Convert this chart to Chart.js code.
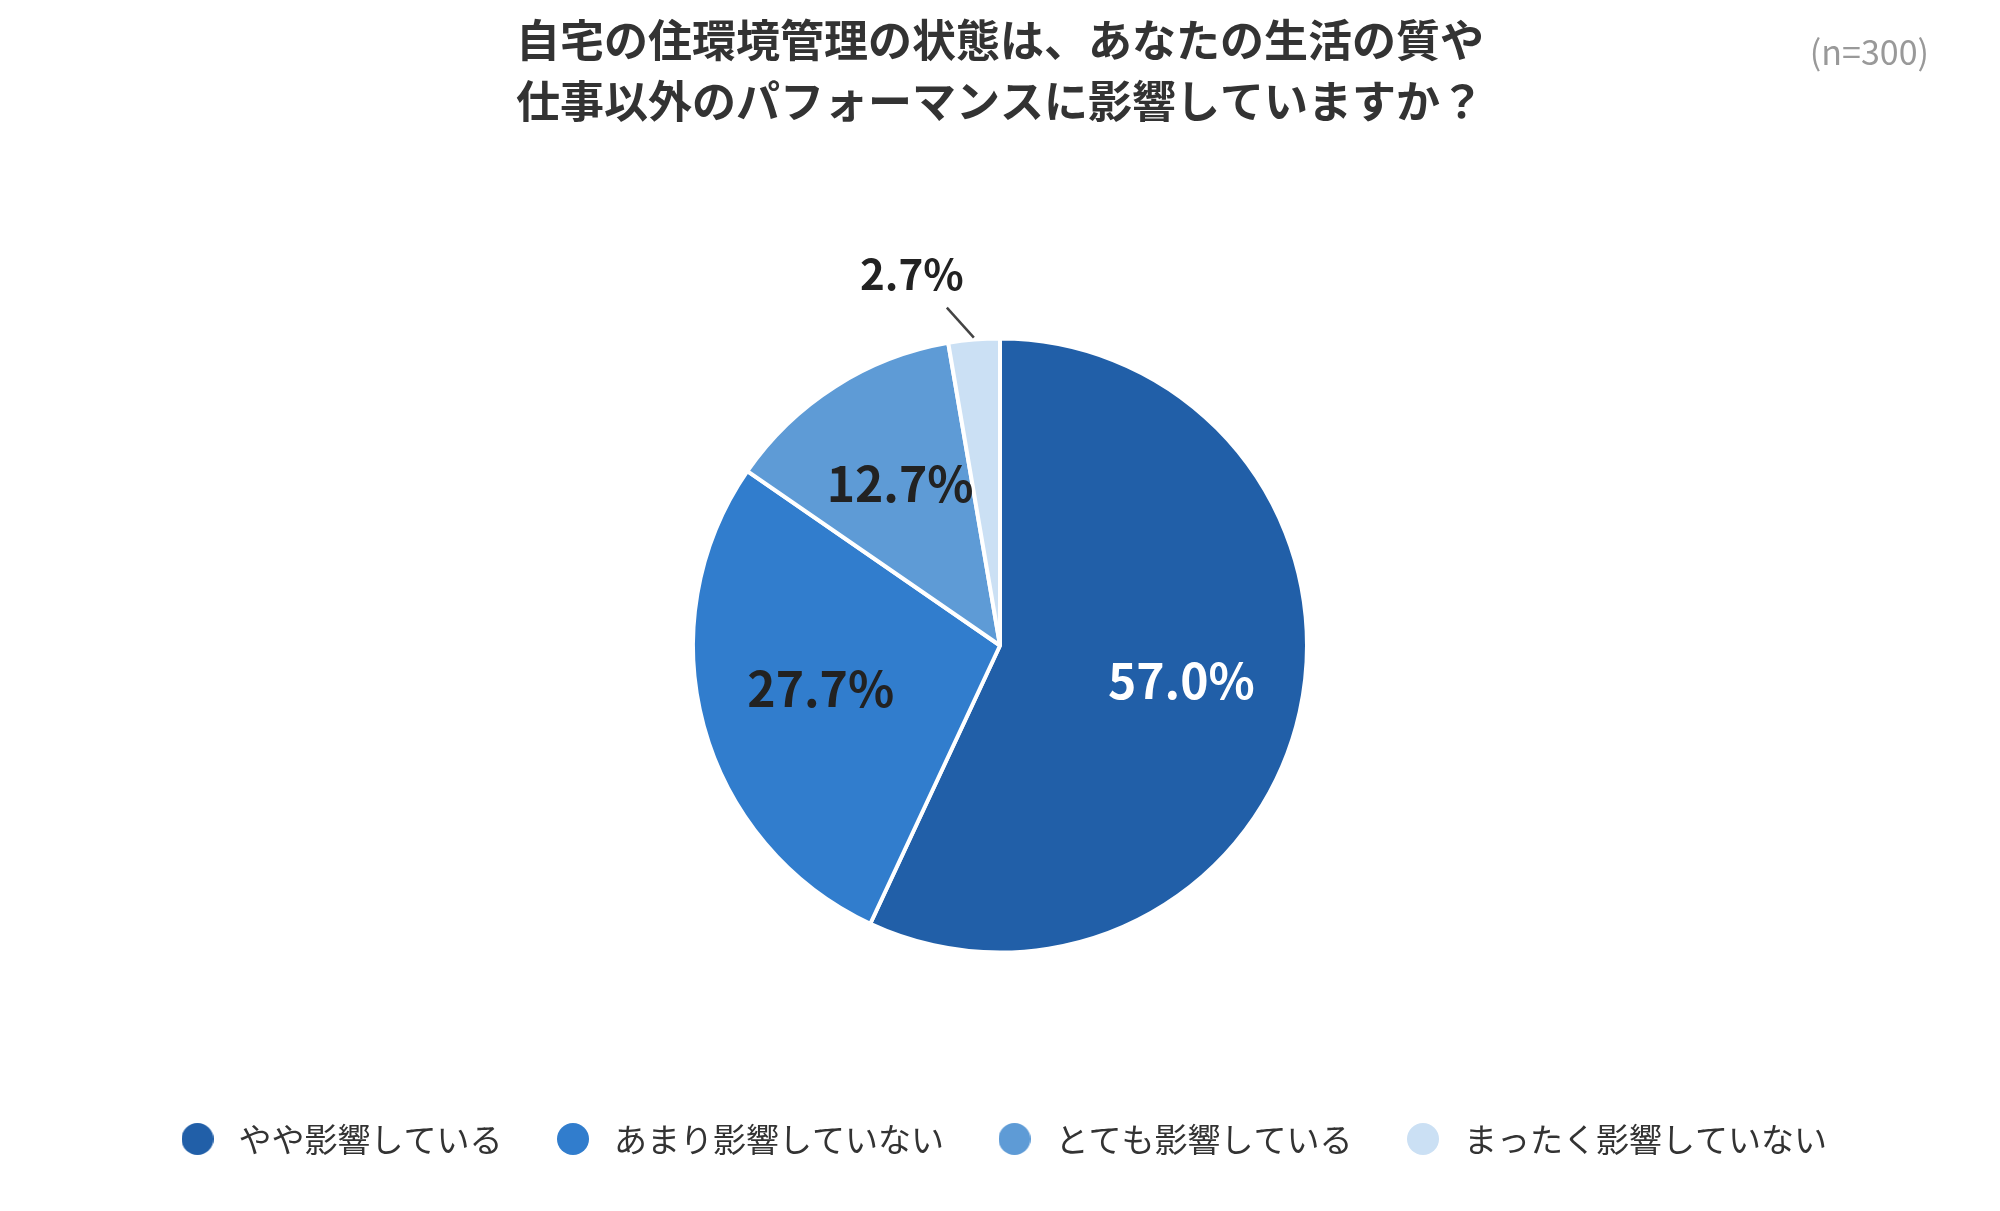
<!DOCTYPE html>
<html lang="ja">
<head>
<meta charset="utf-8">
<title>住環境管理と生活の質</title>
<script src="https://cdn.jsdelivr.net/npm/chart.js@4.4.1/dist/chart.umd.min.js"></script>
<style>
  html, body { margin: 0; padding: 0; background: #fff; }
  canvas { display: block; }
</style>
</head>
<body>
<canvas id="chart" width="2000" height="1211"></canvas>
<script>
// data
const titleLines = ['自宅の住環境管理の状態は、あなたの生活の質や', '仕事以外のパフォーマンスに影響していますか？'];
const sampleNote = '(n=300)';
const categories = ['やや影響している', 'あまり影響していない', 'とても影響している', 'まったく影響していない'];
const percentages = [57.0, 27.7, 12.7, 2.7];

// styling
const sliceColors = ['#215fa8', '#317dcd', '#5e9bd6', '#cbe0f4'];
const labelColors = ['#ffffff', '#222222', '#222222', '#222222'];
const FONT = '"Noto Sans CJK JP", "Noto Sans", sans-serif';

// round legend marker drawn on a small canvas, so the box width can stay wide
function dotImage(color) {
  const c = document.createElement('canvas');
  c.width = 32;
  c.height = 32;
  const g = c.getContext('2d');
  g.fillStyle = color;
  g.beginPath();
  g.arc(16, 16, 16, 0, Math.PI * 2);
  g.fill();
  return c;
}

// percentage labels on the slices + sample size note
const pieLabels = {
  id: 'pieLabels',
  afterDatasetsDraw(chart) {
    const ctx = chart.ctx;
    const meta = chart.getDatasetMeta(0);
    ctx.save();
    ctx.textAlign = 'center';
    ctx.textBaseline = 'middle';
    meta.data.forEach((arc, i) => {
      const { x, y, startAngle, endAngle, outerRadius } =
        arc.getProps(['x', 'y', 'startAngle', 'endAngle', 'outerRadius'], true);
      const mid = (startAngle + endAngle) / 2;
      const cos = Math.cos(mid);
      const sin = Math.sin(mid);
      const text = percentages[i].toFixed(1) + '%';
      ctx.fillStyle = labelColors[i];
      if (percentages[i] < 5) {
        // small slice: label outside with a short leader line
        const x0 = x + cos * (outerRadius + 2);
        const y0 = y + sin * (outerRadius + 2);
        ctx.strokeStyle = '#444';
        ctx.lineWidth = 2.5;
        ctx.beginPath();
        ctx.moveTo(x0, y0);
        ctx.lineTo(x0 - 27, y0 - 30);
        ctx.stroke();
        ctx.font = `bold 42px ${FONT}`;
        ctx.fillText(text, x0 - 62, y0 - 64);
      } else {
        const d = outerRadius * 0.605;
        ctx.font = `bold 48px ${FONT}`;
        ctx.fillText(text, x + cos * d, y + sin * d - 5);
      }
    });

    ctx.font = `34px ${FONT}`;
    ctx.fillStyle = '#999999';
    ctx.textAlign = 'right';
    ctx.fillText(sampleNote, 1929, 52);
    ctx.restore();
  }
};

const baseLabels = (Chart.overrides.pie || Chart.overrides.doughnut).plugins.legend.labels.generateLabels;

new Chart(document.getElementById('chart'), {
  type: 'pie',
  data: {
    labels: categories,
    datasets: [{
      data: percentages,
      backgroundColor: sliceColors,
      borderColor: '#ffffff',
      borderWidth: 4,
      radius: 307
    }]
  },
  options: {
    responsive: false,
    devicePixelRatio: 1,
    animation: false,
    layout: { padding: { top: 0, right: 0, bottom: 45.5, left: 0 } },
    plugins: {
      title: {
        display: true,
        text: titleLines,
        color: '#333333',
        font: { family: FONT, size: 44, weight: 'bold', lineHeight: 1.386 },
        padding: { top: 10, bottom: 82.5 }
      },
      legend: {
        position: 'bottom',
        labels: {
          usePointStyle: true,
          pointStyleWidth: 49,
          padding: 46,
          color: '#333333',
          font: { family: FONT, size: 33 },
          generateLabels(chart) {
            return baseLabels(chart).map(item => ({ ...item, pointStyle: dotImage(item.fillStyle) }));
          }
        }
      },
      tooltip: { enabled: false }
    }
  },
  plugins: [pieLabels]
});
</script>
</body>
</html>
